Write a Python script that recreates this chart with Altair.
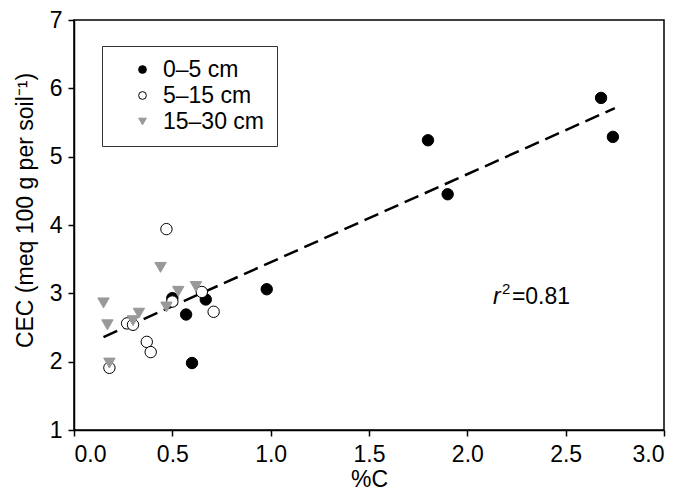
import altair as alt
import pandas as pd

# ---- data ----
depths = ["0\u20135 cm", "5\u201315 cm", "15\u201330 cm"]

shallow_x = [2.68, 2.74, 1.80, 1.90, 0.98, 0.67, 0.50, 0.57, 0.60]
shallow_y = [5.86, 5.29, 5.24, 4.45, 3.06, 2.91, 2.93, 2.69, 1.98]

mid_x = [0.47, 0.65, 0.50, 0.71, 0.27, 0.30, 0.37, 0.39, 0.18]
mid_y = [3.94, 3.02, 2.88, 2.73, 2.56, 2.54, 2.29, 2.14, 1.91]

deep_x = [0.15, 0.17, 0.18, 0.44, 0.33, 0.53, 0.62, 0.47, 0.30]
deep_y = [2.86, 2.54, 1.98, 3.38, 2.71, 3.03, 3.10, 2.80, 2.60]

fit_x = [0.15, 2.75]
fit_y = [2.36, 5.71]

r2_text = "0.81"

rows = []
for d, xs, ys in zip(depths, [shallow_x, mid_x, deep_x], [shallow_y, mid_y, deep_y]):
    for x, y in zip(xs, ys):
        rows.append({"C": x, "CEC": y, "Depth": d})
points_df = pd.DataFrame(rows)
points_df["ord"] = range(len(points_df))
fit_df = pd.DataFrame({"C": fit_x, "CEC": fit_y})

FONT = "Liberation Sans"
FS = 23

xscale = alt.Scale(domain=[0, 3], nice=False)
yscale = alt.Scale(domain=[1, 7], nice=False)

leg = alt.Legend(
    title=None, orient="none", legendX=28, legendY=26,
    strokeColor="#333333", padding=12, symbolOffset=17,
    labelFontSize=FS, labelFont=FONT, labelColor="black",
    symbolSize=60, rowPadding=2, labelOffset=9, symbolStrokeWidth=1,
)

points = alt.Chart(points_df).mark_point(opacity=1, strokeWidth=1, size=130).encode(
    x=alt.X("C:Q", scale=xscale, title="%C",
            axis=alt.Axis(values=[0, 0.5, 1, 1.5, 2, 2.5, 3], format=".1f")),
    y=alt.Y("CEC:Q", scale=yscale, title="CEC (meq 100 g per soil\u207b\u00b9)",
            axis=alt.Axis(values=[1, 2, 3, 4, 5, 6, 7], format="d", titleX=-37, titleY=190)),
    shape=alt.Shape("Depth:N", scale=alt.Scale(domain=depths, range=["circle", "circle", "triangle-down"]), legend=leg),
    fill=alt.Fill("Depth:N", scale=alt.Scale(domain=depths, range=["black", "white", "#999999"]), legend=leg),
    stroke=alt.Stroke("Depth:N", scale=alt.Scale(domain=depths, range=["black", "black", "#999999"]), legend=leg),
    order=alt.Order("ord:Q"),
)

fit = alt.Chart(fit_df).mark_line(color="black", strokeWidth=2.5, strokeDash=[15, 7]).encode(
    x=alt.X("C:Q", scale=xscale),
    y=alt.Y("CEC:Q", scale=yscale),
)

lab_df = pd.DataFrame({"C": [2.13], "CEC": [2.84]})
r_txt = alt.Chart(lab_df).mark_text(text="r", fontStyle="italic", fontSize=FS, font=FONT,
                                    align="left", baseline="alphabetic").encode(x="C:Q", y="CEC:Q")
sup_txt = alt.Chart(lab_df).mark_text(text="2", fontSize=15, font=FONT, align="left",
                                      baseline="alphabetic", dx=9, dy=-10).encode(x="C:Q", y="CEC:Q")
eq_txt = alt.Chart(lab_df).mark_text(text="=" + r2_text, fontSize=FS, font=FONT, align="left",
                                     baseline="alphabetic", dx=19).encode(x="C:Q", y="CEC:Q")

chart = alt.layer(fit, points, r_txt, sup_txt, eq_txt).properties(
    width=590, height=410,
    autosize=alt.AutoSizeParams(type="none"),
    padding={"left": 66, "top": 12, "right": 13, "bottom": 62},
).configure_view(stroke="black", strokeWidth=1.5).configure_axis(
    labelFont=FONT, titleFont=FONT, labelFontSize=FS, titleFontSize=FS,
    labelColor="black", titleColor="black", titleFontWeight="normal",
    domainColor="black", domainWidth=1.5, tickColor="black", tickWidth=1.5, tickSize=6,
    grid=False, labelPadding=6,
).configure_axisX(titlePadding=2, labelPadding=7).configure_axisY(titlePadding=11)

chart.save("out.html", embed_options={"renderer": "svg", "actions": False})
